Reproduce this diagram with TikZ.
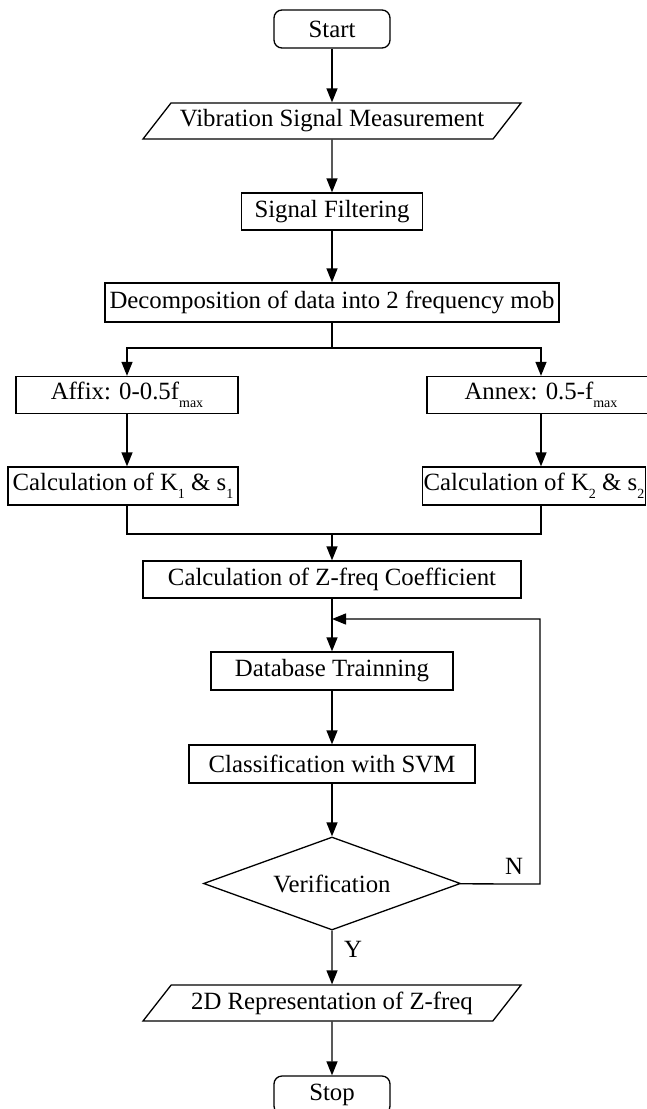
\documentclass[tikz,border=0pt]{standalone}
\usepackage{fontspec}
\setmainfont{Liberation Serif}
\usepackage{tikz}
\usetikzlibrary{shapes.geometric,arrows.meta}

% styles of the flowchart
\tikzset{
  box/.style={draw, rectangle, inner sep=1pt, minimum height=18.5pt},
  term/.style={draw, rectangle, rounded corners=4pt, minimum width=58pt, minimum height=19pt},
  io/.style={draw, trapezium, trapezium left angle=43.5, trapezium right angle=136.5,
    trapezium stretches body, minimum width=189pt, minimum height=18pt, inner sep=1pt},
  test/.style={draw, diamond, aspect=2.76, minimum width=128.5pt, minimum height=46.5pt, inner sep=0pt},
  arr/.style={-{Triangle[length=7pt,width=5.5pt]}},
}
\newcommand{\lowidx}[1]{\raisebox{-0.7ex}{\fontsize{7}{8}\selectfont #1}}

\begin{document}
\begin{tikzpicture}[x=0.5pt, y=-0.5pt, line width=0.65pt, font=\fontsize{12.4}{14}\selectfont]
        \useasboundingbox (0,0) rectangle (647,1109);

        % Main column
        \node[term] (start) at (332,29) {Start};
        \node[io] (vib) at (332,121) {Vibration Signal Measurement};
        \node[box, minimum width=90.5pt] (filt) at (332,211.5) {Signal Filtering};
        \node[box, minimum width=227pt, minimum height=19.5pt] (dec) at (332,302.5) {Decomposition of data into 2 frequency mob};

        % Two frequency bands
        \node[box, minimum width=111pt] (affix) at (127,395) {Affix: 0-0.5f\lowidx{max}};
        \node[box, minimum width=114pt] (annex) at (541,395) {Annex: 0.5-f\lowidx{max}};
        \node[box, minimum width=115pt, minimum height=19pt, inner sep=0.5pt] (k1) at (123,486) {Calculation of K\lowidx{1} \& s\lowidx{1}};
        \node[box, minimum width=110pt, minimum height=19pt, inner sep=0.5pt] (k2) at (534,486) {Calculation of K\lowidx{2} \& s\lowidx{2}};

        % Training and test
        \node[box, minimum width=189pt] (zf) at (332,579.5) {Calculation of Z-freq Coefficient};
        \node[box, minimum width=121pt, minimum height=19pt] (db) at (332,671) {Database Trainning};
        \node[box, minimum width=143pt, minimum height=19pt] (svm) at (332,764) {Classification with SVM};
        \node[test] (ver) at (332,883.5) {Verification};
        \node[io] (rep) at (332,1003) {2D Representation of Z-freq};
        \node[term] (stop) at (332,1095) {Stop};

        % Junction points
        \coordinate (br) at (332,348);  % branch
        \coordinate (mg) at (332,534);  % merge
        \coordinate (lp) at (332,619);  % loop back
        \coordinate (nr) at (540,884);  % right corner of the loop

        % Connectors
        \draw[arr] (start) -- (vib);
        \draw[arr] (vib) -- (filt);
        \draw[arr] (filt) -- (dec);
        \draw (dec) -- (br);
        \draw[arr] (br) -| (affix);
        \draw[arr] (br) -| (annex);
        \draw[arr] (affix.south) -- (affix.south |- k1.north);
        \draw[arr] (annex.south) -- (annex.south |- k2.north);
        \draw (affix.south |- k1.south) |- (mg);
        \draw (annex.south |- k2.south) |- (mg);
        \draw[arr] (mg) -- (zf);
        \draw[arr] (zf) -- (db);
        \draw[arr] (db) -- (svm);
        \draw[arr] (svm) -- (ver);
        \draw[arr] (ver) -- (nr) |- (lp);
        \draw[arr] (ver) -- (rep);
        \draw[arr] (rep) -- (stop);

        % Branch labels
        \node (n) at (514,866) {N};
        \node (y) at (353,949) {Y};
      \end{tikzpicture}
\end{document}
